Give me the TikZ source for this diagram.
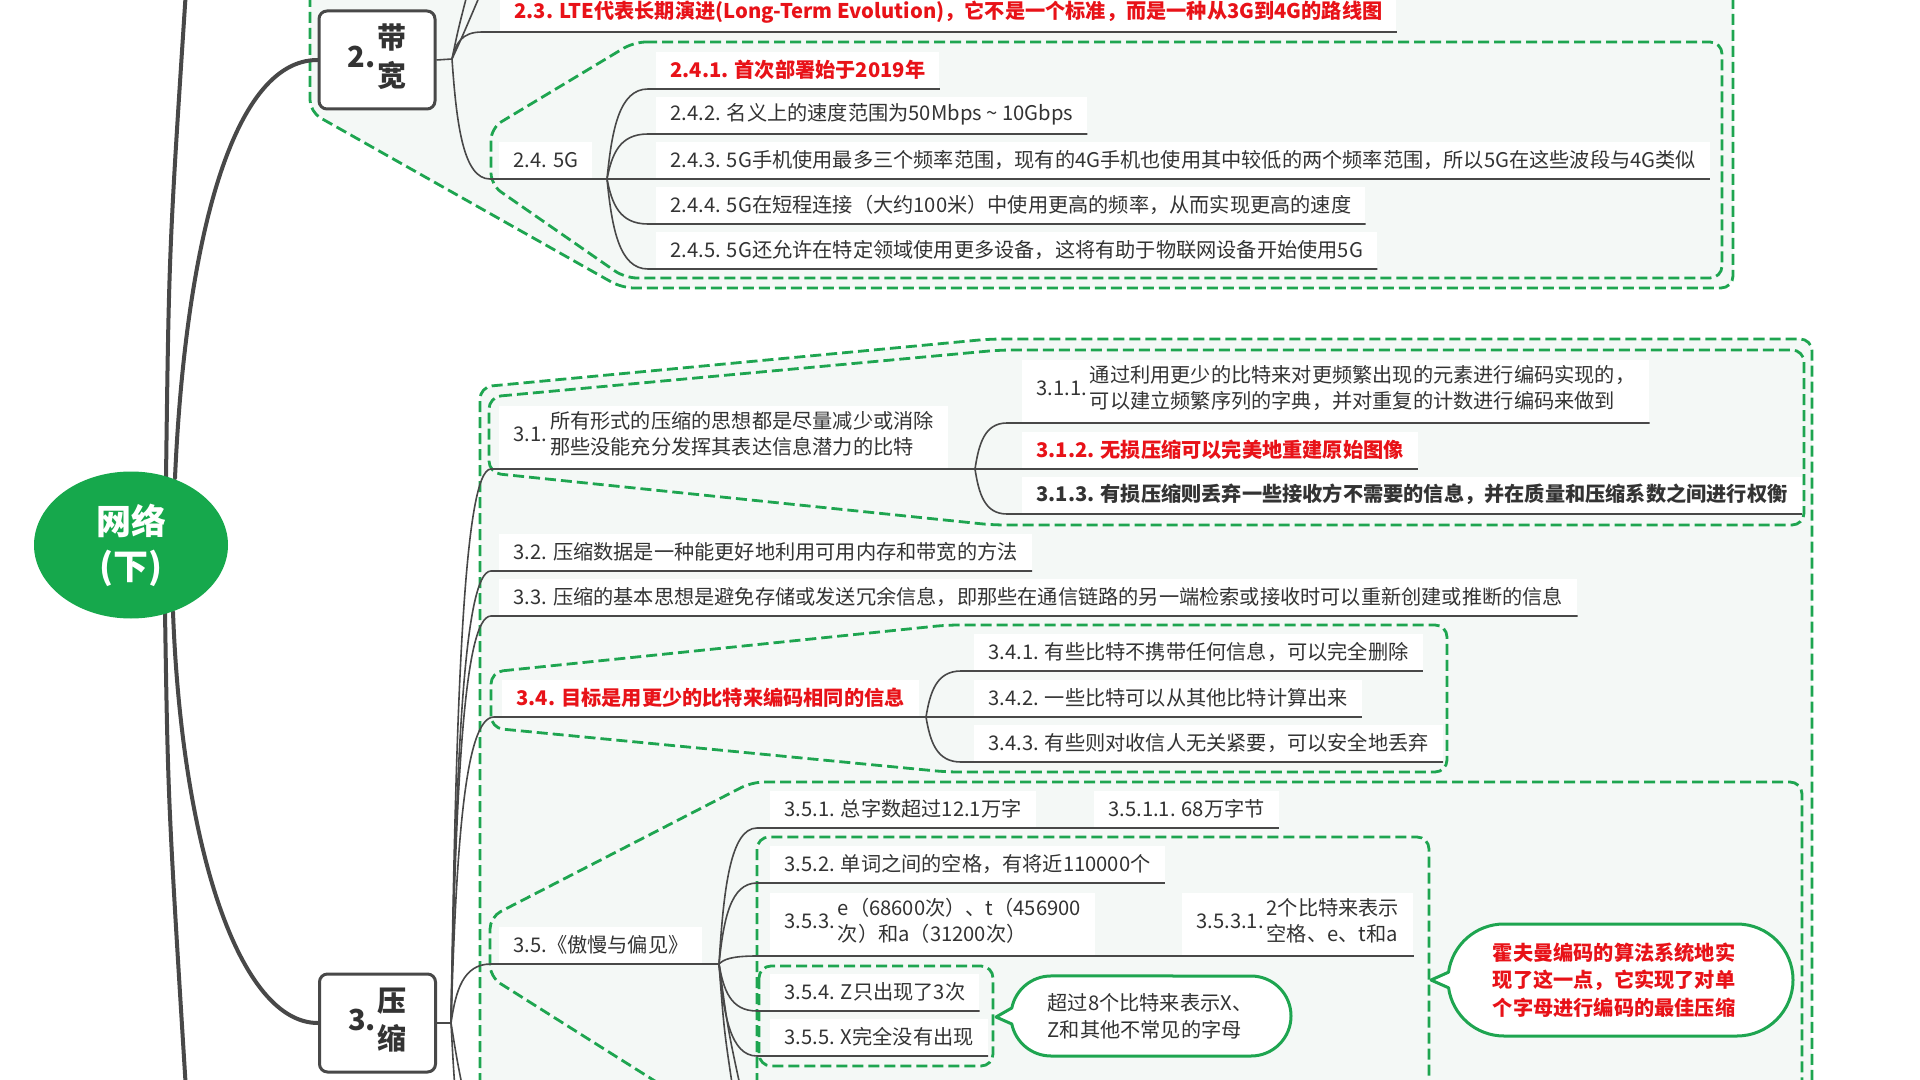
\documentclass[tikz,border=0pt]{standalone}
\usepackage{fontspec}
\setmainfont{Noto Sans CJK SC}
\usetikzlibrary{calc,shapes.geometric}
\definecolor{txt}{RGB}{51,51,51}
\definecolor{hot}{RGB}{232,18,24}
\definecolor{gd}{RGB}{30,165,80}
\definecolor{gfill}{RGB}{244,248,246}
\definecolor{rootg}{RGB}{22,168,76}
\definecolor{lnc}{RGB}{72,72,72}
\pgfdeclarelayer{back}\pgfdeclarelayer{conn}\pgfsetlayers{back,conn,main}
\newcommand\fs{\fontsize{10.1pt}{13pt}\selectfont}
\tikzset{
 grp/.style={fill=gfill, draw=gd, line width=1.4pt, dash pattern=on 5.5pt off 2.5pt, rounded corners=6pt},
 cn/.style={draw=lnc, line width=0.8pt},
 thk/.style={draw=lnc, line width=2pt, line cap=round},
 tx/.style={fill=white, anchor=south west, inner xsep=7pt, inner ysep=0pt, minimum height=18pt, font=\fs, text=txt},
 tx2/.style={tx, minimum height=31pt},
 hl/.style={text=hot, font=\fs\bfseries},
 bd/.style={font=\fs\bfseries},
 boxs/.style={draw=lnc, line width=1.5pt, rounded corners=4pt, fill=white, minimum width=58pt, minimum height=49pt, inner sep=0pt, text=txt, font=\fontsize{14.5pt}{19pt}\selectfont\bfseries},
 callout/.style={draw=gd, line width=1.5pt, fill=white},
 elb/.style={to path={let \p1=(\tikztostart), \p2=(\tikztotarget) in .. controls ({\x1+0.12*(\x2-\x1)},{\y1+0.55*(\y2-\y1)}) and ({\x1+0.3*(\x2-\x1)},\y2) .. (\x2,\y2)}}
}
\begin{document}
\begin{tikzpicture}[x=0.5pt,y=-0.5pt,line join=round]
\useasboundingbox (0,0) rectangle (1920,1080);
\begin{pgfonlayer}{back}
\fill[white] (0,0) rectangle (1920,1080);
\path[grp] (310,-20) -- (310,112) -- (622,288) -- (1733,288) -- (1733,-20);
\path[grp] (634,42) -- (1722,42) -- (1722,278) -- (625,278) -- (491,185) -- (491,128) -- cycle;
\path[grp] (480,1100) -- (480,387) -- (990,339) -- (1812,339) -- (1812,1100);
\path[grp] (489,397) -- (1000,350) -- (1804,350) -- (1804,525) -- (993,525) -- (489,473) -- cycle;
\path[grp] (491,672) -- (947,625) -- (1447,625) -- (1447,772) -- (947,772) -- (491,728) -- cycle;
\path[grp] (685,1100) -- (490,977) -- (490,917) -- (752,782) -- (1802,782) -- (1802,1100);
\path[grp] (757,1100) -- (757,837) -- (1429,837) -- (1429,1100);
\path[grp] (759,966) rectangle (993,1066);
\end{pgfonlayer}

% coordinates
\coordinate (f2) at (452,59);
\coordinate (b24) at (607,179);
\coordinate (f3) at (451,1023);
\coordinate (b31) at (975,469);
\coordinate (b34) at (926,717);
\coordinate (b35) at (719,964);
\coordinate (o1) at (186,-10);
\coordinate (o2) at (186,1090);
\coordinate (o3) at (467,-5);
\coordinate (o4) at (480,-5);
\coordinate (o5) at (455,1090);
\coordinate (o6) at (463,1090);
\coordinate (o7) at (733,1090);
\coordinate (o8) at (741,1090);

% main nodes
\node[ellipse, fill=rootg, minimum width=97pt, minimum height=73.5pt, inner sep=0pt, text=white, font=\fontsize{17.5pt}{22.5pt}\selectfont\bfseries, align=center] (root) at (131,545) {网络\\(下)};
\node[boxs] (b2) at (377,60) {2.\hspace{1pt}\begin{tabular}{@{}c@{}}带\\宽\end{tabular}};
\node[boxs] (b3) at (377.5,1023) {3.\hspace{1pt}\begin{tabular}{@{}c@{}}压\\缩\end{tabular}};

% group 2
\node[tx,hl] (n23) at (500,31) {2.3. LTE代表长期演进(Long-Term Evolution)，它不是一个标准，而是一种从3G到4G的路线图};
\node[tx] (n24) at (499,178) {2.4. 5G};
\node[tx,hl] (n241) at (656,88) {2.4.1. 首次部署始于2019年};
\node[tx] (n242) at (656,133) {2.4.2. 名义上的速度范围为50Mbps \textasciitilde{} 10Gbps};
\node[tx] (n243) at (656,178) {2.4.3. 5G手机使用最多三个频率范围，现有的4G手机也使用其中较低的两个频率范围，所以5G在这些波段与4G类似};
\node[tx] (n244) at (656,223) {2.4.4. 5G在短程连接（大约100米）中使用更高的频率，从而实现更高的速度};
\node[tx] (n245) at (656,268) {2.4.5. 5G还允许在特定领域使用更多设备，这将有助于物联网设备开始使用5G};

% group 3
\node[tx2] (n31) at (499,468) {3.1.\hspace{1.5pt}\begin{tabular}{@{}l@{}}所有形式的压缩的思想都是尽量减少或消除\\那些没能充分发挥其表达信息潜力的比特\end{tabular}};
\node[tx2] (n311) at (1022,422) {3.1.1.\hspace{1.5pt}\begin{tabular}{@{}l@{}}通过利用更少的比特来对更频繁出现的元素进行编码实现的，\\可以建立频繁序列的字典，并对重复的计数进行编码来做到\end{tabular}};
\node[tx,hl] (n312) at (1022,468) {3.1.2. 无损压缩可以完美地重建原始图像};
\node[tx,bd] (n313) at (1022,513) {3.1.3. 有损压缩则丢弃一些接收方不需要的信息，并在质量和压缩系数之间进行权衡};
\node[tx] (n32) at (499,570) {3.2. 压缩数据是一种能更好地利用可用内存和带宽的方法};
\node[tx] (n33) at (499,615) {3.3. 压缩的基本思想是避免存储或发送冗余信息，即那些在通信链路的另一端检索或接收时可以重新创建或推断的信息};
\node[tx,hl] (n34) at (502,716) {3.4. 目标是用更少的比特来编码相同的信息};
\node[tx] (n341) at (974,670) {3.4.1. 有些比特不携带任何信息，可以完全删除};
\node[tx] (n342) at (974,716) {3.4.2. 一些比特可以从其他比特计算出来};
\node[tx] (n343) at (974,761) {3.4.3. 有些则对收信人无关紧要，可以安全地丢弃};
\node[tx] (n35) at (499,963) {3.5.《傲慢与偏见》};
\node[tx] (n351) at (770,827) {3.5.1. 总字数超过12.1万字};
\node[tx] (n3511) at (1094,827) {3.5.1.1. 68万字节};
\node[tx] (n352) at (770,882) {3.5.2. 单词之间的空格，有将近110000个};
\node[tx2] (n353) at (770,955) {3.5.3.\hspace{1.5pt}\begin{tabular}{@{}l@{}}e（68600次）、t（456900\\次）和a（31200次）\end{tabular}};
\node[tx2] (n3531) at (1182,955) {3.5.3.1.\hspace{1.5pt}\begin{tabular}{@{}l@{}}2个比特来表示\\空格、e、t和a\end{tabular}};
\node[tx] (n354) at (770,1010) {3.5.4. Z只出现了3次};
\node[tx] (n355) at (770,1055) {3.5.5. X完全没有出现};

% callouts
\draw[callout] (996,1017) -- (1011.8,1008) arc[start angle=191.5, end angle=270, radius=40] -- (1251,976) arc[start angle=270, end angle=450, radius=40] -- (1051,1056) arc[start angle=90, end angle=168.5, radius=40] -- cycle;
\node[font=\fontsize{10.1pt}{13.5pt}\selectfont, text=txt, align=left] (c1) at (1150,1016) {超过8个比特来表示X、\\Z和其他不常见的字母};
\draw[callout] (1431,980) -- (1448.5,972.2) arc[start angle=188, end angle=270, radius=56] -- (1737,924) arc[start angle=270, end angle=450, radius=56] -- (1504,1036) arc[start angle=90, end angle=172, radius=56] -- cycle;
\node[font=\fontsize{10.1pt}{13.75pt}\selectfont\bfseries, text=hot, align=left] (c2) at (1614,980) {霍夫曼编码的算法系统地实\\现了这一点，它实现了对单\\个字母进行编码的最佳压缩};

\begin{pgfonlayer}{conn}
% root branches
\draw[thk] ($(root)+(44,-67)$) .. controls (185,250) and (230,60) .. (b2.west);
\draw[thk] ($(root)+(35,-67)$) .. controls (169,250) .. (o1);
\draw[thk] ($(root)+(42,67)$) .. controls (182,850) and (240,1023) .. (b3.west);
\draw[thk] ($(root)+(34,67)$) .. controls (168,800) .. (o2);
% group 2
\draw[cn] (b2.east) -- (f2);
\draw[cn] (f2) .. controls (458,30) .. (o3);
\draw[cn] (f2) .. controls (463,35) .. (o4);
\draw[cn] (f2) to[elb] ($(n23.south west)+(-18,1)$) -- ($(n23.south east)+(0,1)$);
\draw[cn] (f2) to[elb] ($(n24.south west)+(-9,1)$) -- (b24);
\foreach \n in {n241,n242,n243,n244,n245}
  \draw[cn] (b24) to[elb] ($(\n.south west)+(-8,1)$) -- ($(\n.south east)+(0,1)$);
% group 3
\draw[cn] (b3.east) -- (f3);
\foreach \n in {n31,n32,n33,n34,n35}
  \draw[cn] (f3) to[elb] ($(\n.south west)+(-8,1)$) -- ($(\n.south east)+(0,1)$);
\draw[cn] (f3) .. controls (453,1060) .. (o5);
\draw[cn] (f3) .. controls (457,1060) .. (o6);
\draw[cn] ($(n31.south east)+(0,1)$) -- (b31);
\draw[cn] ($(n34.south east)+(0,1)$) -- (b34);
\draw[cn] ($(n35.south east)+(0,1)$) -- (b35);
\foreach \n in {n311,n312,n313}
  \draw[cn] (b31) to[elb] ($(\n.south west)+(-15,1)$) -- ($(\n.south east)+(0,1)$);
\foreach \n in {n341,n342,n343}
  \draw[cn] (b34) to[elb] ($(\n.south west)+(-13,1)$) -- ($(\n.south east)+(0,1)$);
\foreach \n in {n351,n352,n353,n354,n355}
  \draw[cn] (b35) to[elb] ($(\n.south west)+(-13,1)$) -- ($(\n.south east)+(0,1)$);
\draw[cn] (b35) .. controls (724,1030) .. (o7);
\draw[cn] (b35) .. controls (728,1030) .. (o8);
\draw[cn] ($(n351.south east)+(0,1)$) -- ($(n3511.south east)+(0,1)$);
\draw[cn] ($(n353.south east)+(0,1)$) -- ($(n3531.south east)+(0,1)$);
\end{pgfonlayer}
\end{tikzpicture}
\end{document}
